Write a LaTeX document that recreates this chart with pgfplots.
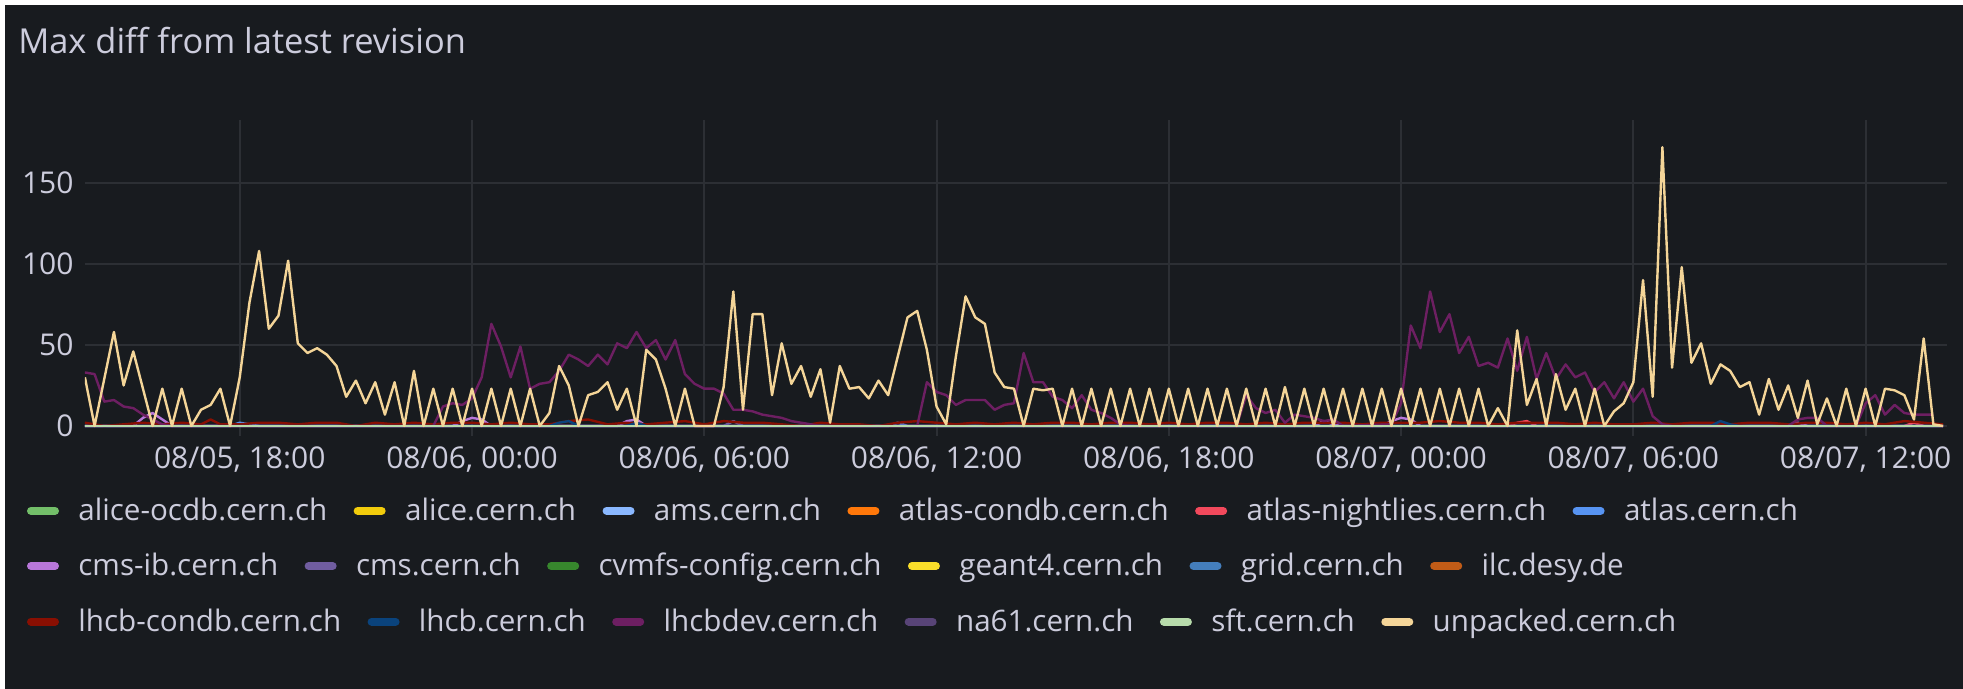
\documentclass[border=0pt]{standalone}
\usepackage{fontspec}
\setmainfont{Open Sans}
\usepackage{pgfplots}
\pgfplotsset{compat=1.18}
\usetikzlibrary{calc}

% grafana dark palette
\definecolor{bg}{HTML}{181B1F}
\definecolor{gridc}{HTML}{2C2F34}
\definecolor{txt}{HTML}{CCCCDC}
\definecolor{c1}{HTML}{73BF69}
\definecolor{c2}{HTML}{F2CC0C}
\definecolor{c3}{HTML}{8AB8FF}
\definecolor{c4}{HTML}{FF780A}
\definecolor{c5}{HTML}{F2495C}
\definecolor{c6}{HTML}{5794F2}
\definecolor{c7}{HTML}{B877D9}
\definecolor{c8}{HTML}{705DA0}
\definecolor{c9}{HTML}{37872D}
\definecolor{c10}{HTML}{FADE2A}
\definecolor{c11}{HTML}{447EBC}
\definecolor{c12}{HTML}{C15C17}
\definecolor{c13}{HTML}{890F02}
\definecolor{c14}{HTML}{0A437C}
\definecolor{c15}{HTML}{6D1F62}
\definecolor{c16}{HTML}{584477}
\definecolor{c17}{HTML}{B7DBAB}
\definecolor{c18}{HTML}{F4D598}

\newcommand\tickfont{\fontsize{15}{18}\selectfont}
\newcommand\legfont{\fontsize{14.8}{18}\selectfont}
\newcommand\titlefont{\fontsize{17.2}{20}\selectfont}

% one legend entry, flowing from coordinate (cur)
\newcommand\litem[2]{%
  \draw[line width=4pt, line cap=round, #1] ($(cur)+(2pt,0)$) -- ++(12pt,0);
  \node[anchor=base west, inner sep=0pt, font=\legfont, text=txt] (tmp) at ($(cur)+(25.5pt,-4.75pt)$) {#2};
  \coordinate (cur) at ($(tmp.base east)+(13pt,4.75pt)$);
}

\begin{document}
\begin{tikzpicture}
\fill[white] (0,0) rectangle (981.5pt,344.5pt);
\fill[bg] (2.5pt,0) rectangle (981.5pt,342pt);
\node[anchor=base west, inner sep=0pt, font=\titlefont, text=txt] at (8.95pt,317.5pt) {Max diff from latest revision};

% x: 15-minute steps from 08/05 14:00
\begin{axis}[
    at={(42.45pt,126.25pt)}, anchor=south west,
    scale only axis, width=931pt, height=158.4pt,
    xmin=0, xmax=192.4, ymin=-6.5, ymax=189,
    axis line style={draw=none},
    tick style={draw=none},
    grid=major, grid style={gridc, line width=1pt},
    xtick={16,40,64,88,112,136,160,184},
    xticklabels={{08/05, 18:00},{08/06, 00:00},{08/06, 06:00},{08/06, 12:00},{08/06, 18:00},{08/07, 00:00},{08/07, 06:00},{08/07, 12:00}},
    ytick={0,50,100,150},
    tick label style={font=\tickfont, text=txt},
    yticklabel style={anchor=east, inner sep=0pt, xshift=-5.5pt},
    xticklabel style={anchor=base, inner sep=0pt, yshift=-16.25pt},
    /pgf/number format/assume math mode=true,
    every axis plot/.append style={line width=1.2pt, line join=round, mark=none},
  ]
  % alice-ocdb.cern.ch
  \addplot[c1] coordinates {(0,0)(192,0)};
  % alice.cern.ch
  \addplot[c2] coordinates {(0,0)(192,0)};
  % ams.cern.ch
  \addplot[c3] coordinates {(0,0)(192,0)};
  % atlas-condb.cern.ch
  \addplot[c4] coordinates {(0,0)(192,0)};
  % atlas-nightlies.cern.ch
  \addplot[c5] coordinates {(0,0)(147,0)(148,2)(149,3)(150,0)(188,0)(189,2)(190,0)(192,0)};
  % atlas.cern.ch
  \addplot[c6] coordinates {(0,0)(15,0)(16,2)(17,1)(18,0)(83,0)(84,2)(85,0)(113,0)(114,1)(115,0)(192,0)};
  % cms-ib.cern.ch
  \addplot[c7] coordinates {(0,0)(5,0)(6,5)(7,8)(8,4)(9,0)(38,0)(39,3)(40,5)(41,4)(42,0)(55,0)(56,3)(57,4)(58,0)
    (127,0)(128,3)(129,1)(130,0)(134,0)(135,3)(136,5)(137,4)(138,0)(176,0)(177,2)(178,0)(192,0)};
  % cms.cern.ch
  \addplot[c8] coordinates {(0,0)(66,0)(67,3)(68,0)(192,0)};
  % cvmfs-config.cern.ch
  \addplot[c9] coordinates {(0,0)(192,0)};
  % geant4.cern.ch
  \addplot[c10] coordinates {(0,0)(192,0)};
  % grid.cern.ch
  \addplot[c11] coordinates {(0,0)(192,0)};
  % ilc.desy.de
  \addplot[c12] coordinates {(0,0)(192,0)};
  % lhcb-condb.cern.ch
  \addplot[c13] coordinates {(0,2)(2,0)(4,1)(6,2)(8,1)(10,2)(12,1)(13,4)(14,1)(16,1)(18,2)(20,2)(22,1)(24,2)(26,2)(28,0)
    (30,2)(32,1)(34,2)(36,1)(38,2)(40,2)(42,1)(44,2)(46,1)(48,1)(50,3)(52,4)(54,1)(56,2)(58,1)(60,2)(62,3)(64,1)
    (66,3)(68,2)(70,2)(72,1)(74,0)(76,2)(78,1)(80,1)(82,0)(84,2)(86,3)(88,2)(90,1)(92,2)(94,1)(96,2)(98,1)(100,2)
    (102,2)(104,1)(106,2)(108,2)(110,1)(112,2)(114,1)(116,2)(118,2)(120,1)(122,2)(124,1)(126,2)(128,2)(130,2)
    (132,1)(134,2)(136,2)(138,2)(140,3)(142,2)(144,2)(146,1)(148,2)(150,2)(152,2)(154,1)(156,2)(158,1)(160,1)
    (162,2)(164,1)(166,2)(168,2)(170,1)(172,2)(174,2)(176,1)(178,2)(180,2)(182,1)(184,2)(186,1)(188,3)(190,2)(192,1)};
  % lhcb.cern.ch
  \addplot[c14] coordinates {(0,0)(48,0)(49,2)(50,3)(51,0)(56,0)(57,2)(58,0)(168,0)(169,3)(170,1)(171,0)(192,0)};
  % lhcbdev.cern.ch
  \addplot[c15] coordinates {(0,33)(1,32)(2,15)(3,16)(4,12)(5,11)(6,7)(7,4)(8,1)(9,0)(36,0)
    (37,12)(38,14)(39,13)(40,17)(41,30)(42,63)(43,49)(44,30)(45,49)(46,23)(47,26)(48,27)(49,34)(50,44)
    (51,41)(52,37)(53,44)(54,38)(55,51)(56,48)(57,58)(58,48)(59,53)(60,41)(61,53)(62,32)(63,26)(64,23)
    (65,23)(66,20)(67,10)(68,10)(69,9)(70,7)(71,6)(72,5)(73,3)(74,2)(75,1)(76,0)(86,0)
    (87,27)(88,21)(89,19)(90,13)(91,16)(92,16)(93,16)(94,10)(95,13)(96,14)(97,45)(98,27)(99,27)(100,18)
    (101,16)(102,11)(103,19)(104,10)(105,8)(106,5)(107,1)(108,0)(119,0)
    (120,19)(121,11)(122,8)(123,10)(124,2)(125,7)(126,6)(127,5)(128,3)(129,4)(130,0)(135,1)
    (136,14)(137,62)(138,48)(139,83)(140,58)(141,69)(142,45)(143,55)(144,37)(145,39)(146,36)(147,54)
    (148,34)(149,55)(150,29)(151,45)(152,29)(153,38)(154,30)(155,33)(156,21)(157,27)(158,17)(159,27)
    (160,15)(161,23)(162,6)(163,1)(164,0)(176,0)(177,4)(178,5)(179,5)(180,0)(183,0)
    (184,14)(185,19)(186,7)(187,13)(188,8)(189,7)(190,7)(191,7)};
  % na61.cern.ch
  \addplot[c16] coordinates {(0,0)(192,0)};
  % sft.cern.ch
  \addplot[c17] coordinates {(0,0)(192,0)};
  % unpacked.cern.ch
  \addplot[c18] coordinates {(0,30)(1,0)(2,29)(3,58)(4,25)(5,46)(6,23)(7,0)(8,23)(9,0)(10,23)(11,0)(12,10)(13,13)
    (14,23)(15,0)(16,30)(17,76)(18,108)(19,60)(20,68)(21,102)(22,51)(23,45)(24,48)(25,44)(26,37)(27,18)
    (28,28)(29,14)(30,27)(31,7)(32,27)(33,0)(34,34)(35,0)(36,23)(37,0)(38,23)(39,0)(40,23)(41,0)(42,23)
    (43,0)(44,23)(45,0)(46,23)(47,0)(48,8)(49,37)(50,25)(51,0)(52,19)(53,21)(54,27)(55,10)(56,23)(57,0)
    (58,47)(59,41)(60,23)(61,0)(62,23)(63,0)(64,0)(65,0)(66,24)(67,83)(68,10)(69,69)(70,69)(71,19)(72,51)
    (73,26)(74,37)(75,18)(76,35)(77,2)(78,37)(79,23)(80,24)(81,17)(82,28)(83,19)(84,43)(85,67)(86,71)
    (87,47)(88,12)(89,1)(90,43)(91,80)(92,67)(93,63)(94,33)(95,24)(96,23)(97,0)(98,23)(99,22)(100,23)
    (101,0)(102,23)(103,0)(104,23)(105,0)(106,23)(107,0)(108,23)(109,0)(110,23)(111,0)(112,23)(113,0)
    (114,23)(115,0)(116,23)(117,0)(118,23)(119,0)(120,23)(121,0)(122,23)(123,0)(124,24)(125,0)(126,23)
    (127,0)(128,23)(129,0)(130,23)(131,0)(132,23)(133,0)(134,23)(135,0)(136,23)(137,0)(138,23)(139,0)
    (140,23)(141,0)(142,23)(143,0)(144,23)(145,0)(146,11)(147,0)(148,59)(149,13)(150,29)(151,0)(152,32)
    (153,10)(154,23)(155,0)(156,23)(157,0)(158,9)(159,14)(160,27)(161,90)(162,18)(163,172)(164,36)
    (165,98)(166,39)(167,51)(168,26)(169,38)(170,34)(171,24)(172,27)(173,7)(174,29)(175,10)(176,25)
    (177,5)(178,28)(179,1)(180,17)(181,0)(182,23)(183,0)(184,23)(185,0)(186,23)(187,22)(188,19)(189,4)
    (190,54)(191,1)(192,0)};
\end{axis}

% legend, three flowing rows
\coordinate (cur) at (13.5pt,89.1pt);
\litem{c1}{alice-ocdb.cern.ch}
\litem{c2}{alice.cern.ch}
\litem{c3}{ams.cern.ch}
\litem{c4}{atlas-condb.cern.ch}
\litem{c5}{atlas-nightlies.cern.ch}
\litem{c6}{atlas.cern.ch}

\coordinate (cur) at (13.5pt,61.5pt);
\litem{c7}{cms-ib.cern.ch}
\litem{c8}{cms.cern.ch}
\litem{c9}{cvmfs-config.cern.ch}
\litem{c10}{geant4.cern.ch}
\litem{c11}{grid.cern.ch}
\litem{c12}{ilc.desy.de}

\coordinate (cur) at (13.5pt,33.65pt);
\litem{c13}{lhcb-condb.cern.ch}
\litem{c14}{lhcb.cern.ch}
\litem{c15}{lhcbdev.cern.ch}
\litem{c16}{na61.cern.ch}
\litem{c17}{sft.cern.ch}
\litem{c18}{unpacked.cern.ch}
\end{tikzpicture}
\end{document}
